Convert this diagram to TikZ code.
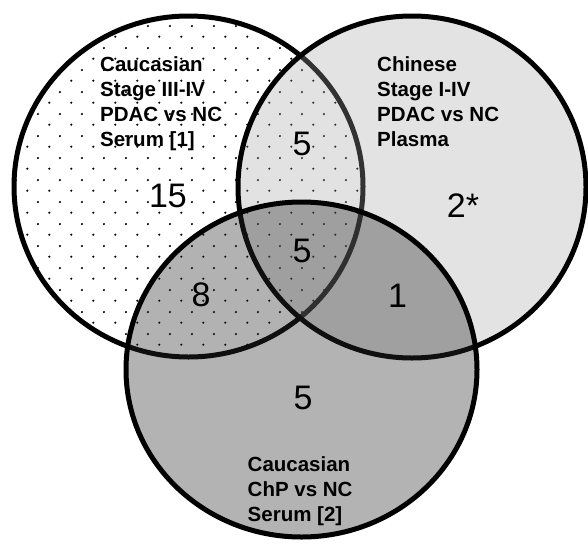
\documentclass[tikz,border=0pt]{standalone}
\usepackage{fontspec}
\setmainfont{Liberation Sans}
\usetikzlibrary{patterns}

% staggered dot texture for the first set
\pgfdeclarepatternformonly{vdots}{\pgfpointorigin}{\pgfqpoint{21.6pt}{21.6pt}}{\pgfqpoint{21.6pt}{21.6pt}}{%
  \pgfpathcircle{\pgfqpoint{5.4pt}{5.4pt}}{1.2pt}%
  \pgfpathcircle{\pgfqpoint{16.2pt}{16.2pt}}{1.2pt}%
  \pgfusepath{fill}}

\definecolor{rfill}{gray}{0.645}
\definecolor{bfill}{gray}{0.17}

\tikzset{
  setline/.style={draw=black, line width=5pt},
  count/.style={font=\fontsize{34}{40}\selectfont, inner sep=0pt},
  setlabel/.style={anchor=base west, inner sep=0pt,
    font=\fontsize{20.5}{25}\selectfont\bfseries},
}

\begin{document}
\begin{tikzpicture}[x=1pt, y=-1pt]
\useasboundingbox (0,0) rectangle (588,544);

\coordinate (cA) at (188.5,186.5);
\coordinate (cB) at (412,187);
\coordinate (cC) at (301.5,369.5);

% set A: white with dots
\fill[white] (cA) ellipse [x radius=174.5pt, y radius=170.5pt];
\fill[pattern=vdots, pattern color=black] (cA) ellipse [x radius=174.5pt, y radius=170.5pt];
\draw[setline] (cA) ellipse [x radius=174.5pt, y radius=170.5pt];

% set B: light translucent grey
\fill[rfill, fill opacity=0.31] (cB) ellipse [x radius=174pt, y radius=171pt];
\draw[setline] (cB) ellipse [x radius=174pt, y radius=171pt];

% set C: darker translucent grey
\fill[bfill, fill opacity=0.36] (cC) ellipse [x radius=175.5pt, y radius=167.5pt];
\draw[setline] (cC) ellipse [x radius=175.5pt, y radius=167.5pt];

% region counts
\node[count] (nA)   at (168,196)   {15};
\node[count] (nAB)  at (302,144)   {5};
\node[count] (nABC) at (302,251)   {5};
\node[count] (nAC)  at (201,295)   {8};
\node[count] (nBC)  at (397.5,295.5) {1};
\node[count] (nB)   at (463,206)   {2*};
\node[count] (nC)   at (303,398)   {5};

% set descriptions
\node[setlabel] (lA) at (100,71.7) {\parbox[t]{200pt}{\raggedright Caucasian\\Stage III-IV\\PDAC vs NC\\Serum [1]}};
\node[setlabel] (lB) at (377,71.7) {\parbox[t]{200pt}{\raggedright Chinese\\Stage I-IV\\PDAC vs NC\\Plasma}};
\node[setlabel] (lC) at (247.5,471.7) {\parbox[t]{200pt}{\raggedright Caucasian\\ChP vs NC\\Serum [2]}};
\end{tikzpicture}
\end{document}
